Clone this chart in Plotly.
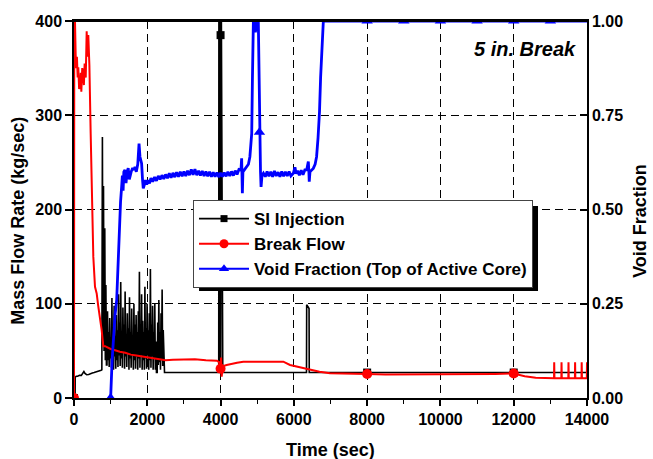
import plotly.graph_objects as go

FONT = "Liberation Sans, Arial, sans-serif"

# ---------------- SI Injection (kg/sec) ----------------
si_time = [0, 30, 32, 60, 100, 150, 200, 240, 270, 300, 345, 400, 450, 500, 550, 600, 650, 700, 740, 760,
           775, 790, 805, 820, 840, 855, 870, 885,
           900, 915, 930, 945, 960, 975, 990, 1005, 1020, 1035, 1050, 1065, 1080, 1095, 1110, 1125, 1140, 1155,
           1170, 1185, 1200, 1215, 1230, 1245, 1260, 1275, 1290, 1305, 1320, 1335, 1350, 1365, 1380, 1395, 1410,
           1425, 1440, 1455, 1470, 1485, 1500, 1515, 1530, 1545, 1560, 1575, 1590, 1605, 1620, 1635, 1650, 1665,
           1680, 1695, 1710, 1725, 1740, 1755, 1770, 1785, 1800, 1815, 1830, 1845, 1860, 1875, 1890, 1905, 1920,
           1935, 1950, 1965, 1980, 1995, 2010, 2025, 2040, 2055, 2070, 2085, 2100, 2115, 2130, 2145, 2160, 2175,
           2190, 2205, 2220, 2235, 2250, 2270, 2285, 2300, 2315, 2330, 2345, 2360, 2375, 2390, 2405, 2420, 2435,
           2450, 2460, 2470,
           3940, 3950, 3955, 3975, 3985, 4005, 4015, 4040, 4060,
           6330, 6345, 6350, 6400, 6415, 6420, 14000]
si_flow = [0, 0, 22, 23, 23, 24, 24, 26, 28, 26, 24.7, 25, 26, 26.5, 27, 27.5, 28, 29, 29.5, 30,
           277, 60, 225, 50, 180, 40, 120, 35,
           35, 92, 40, 70, 33, 85, 42, 60, 32, 106, 38, 75, 30, 98, 44, 66, 31, 88,
           40, 72, 33, 110, 45, 80, 34, 123, 42, 70, 32, 96, 48, 78, 31, 113, 44,
           68, 33, 90, 47, 74, 30, 107, 42, 70, 32, 95, 46, 66, 30, 100, 40, 78,
           31, 88, 44, 70, 30, 92, 42, 134, 32, 76, 45, 110, 30, 82, 40, 70, 30,
           118, 42, 74, 31, 100, 45, 72, 30, 90, 40, 137, 32, 78, 44, 98, 30, 70,
           42, 100, 30, 60, 27, 27, 80, 35, 104, 38, 70, 30, 90, 40, 115, 34, 72,
           30, 28, 27,
           27, 27, 470, 30, 470, 28, 470, 27, 27,
           27, 27, 99, 95, 95, 27, 27]
si_mark_time = [0, 4000, 8000, 12000]
si_mark_flow = [0, 385, 27, 27]

# ---------------- Break Flow (kg/sec) ----------------
bf_time = [0, 8, 27, 45, 60, 80, 100, 117, 140, 164, 185, 200, 225, 254, 270, 290, 320, 346, 365, 390, 420,
           455, 491, 527, 573, 619, 660, 710,
           755, 800, 850, 900, 1000, 1100, 1250, 1400, 1550, 1700, 1850, 2000, 2150, 2300, 2500, 2700,
           3000, 3300, 3600, 3900, 3960, 3985, 4000, 4015, 4030, 4050, 4075, 4165, 4300, 4450, 4620,
           5000, 5400, 5713, 5895, 6100, 6300, 6440, 6700, 6986, 7500, 8000, 8500, 9000, 9500, 10000,
           10500, 11000, 11500, 12000, 12300, 12600, 13000, 13100,
           13105, 13112, 13300, 13305, 13312, 13490, 13495, 13502, 13670, 13675, 13682, 13850, 13855,
           13862, 13995, 14000]
bf_flow = [0, 420, 400, 365, 350, 362, 340, 351, 328, 330, 345, 325, 350, 341, 332, 355, 340, 389, 362, 385, 353,
           281, 196, 150, 118, 111, 98, 86,
           72, 55, 55, 54, 52, 51, 49, 48, 46, 45, 44, 43, 42, 41, 40, 40.5,
           40.5, 41, 40, 39.5, 38, 29.7, 31, 43, 22.6, 30, 34, 35, 36.5, 37.5, 38.5,
           38.5, 38.5, 38.5, 35, 33, 31.5, 29.7, 27.9, 26.2, 25.5, 25.5, 25, 25, 25, 25,
           25, 25, 25.5, 26, 23, 21.5, 21, 21,
           38, 21, 21, 38, 21, 21, 38, 21, 21, 38, 21, 21, 38,
           21, 21, 38]
bf_mark_time = [0, 4000, 8000, 12000]
bf_mark_flow = [0, 31, 25.5, 26]

# ---------------- Void Fraction, top of active core (-) ----------------
vf_time = [930, 1000, 1040, 1075, 1120, 1165, 1200, 1255, 1270, 1300, 1320, 1340, 1360, 1390, 1420, 1450,
           1480, 1510, 1530, 1560, 1600, 1640, 1665, 1700, 1740, 1775, 1800, 1830, 1845, 1870, 1890, 1920,
           1950, 1985, 2020, 2060, 2100, 2150, 2200, 2250, 2300, 2350, 2400, 2450, 2500, 2550, 2600, 2650,
           2700, 2750, 2800, 2850, 2900, 2950, 3000, 3050, 3100, 3150, 3200, 3250, 3300, 3350, 3400, 3450,
           3500, 3550, 3600, 3650, 3700, 3750, 3800, 3850, 3900, 3950, 4000, 4050, 4100, 4150, 4200, 4250,
           4300, 4350, 4400, 4450, 4500, 4530, 4560, 4575, 4585, 4595, 4610, 4650, 4710, 4760, 4800, 4830,
           4850, 4870, 4895, 4930, 4950, 4975, 5000, 5030, 5045, 5060, 5075, 5090, 5105, 5130, 5170, 5220,
           5270, 5320, 5370, 5420, 5470, 5520, 5570, 5620, 5670, 5720, 5770, 5820, 5870, 5920, 5985, 6030,
           6060, 6100, 6150, 6200, 6250, 6300, 6350, 6380, 6395, 6410, 6420, 6440, 6480, 6530, 6580, 6620,
           6660, 6700, 6730, 6760, 6790, 6805, 7000, 8000, 9000, 10000, 11000, 12000, 13000, 14000]
vf_frac = [0.0, 0.0, 0.10, 0.17, 0.22, 0.26, 0.36, 0.48, 0.52, 0.56, 0.59, 0.55, 0.60, 0.605, 0.57, 0.60,
           0.61, 0.58, 0.59, 0.60, 0.61, 0.605, 0.613, 0.60, 0.62, 0.675, 0.64, 0.63, 0.622, 0.58, 0.556, 0.565,
           0.578, 0.566, 0.578, 0.569, 0.583, 0.574, 0.586, 0.576, 0.589, 0.580, 0.591, 0.581, 0.593, 0.583, 0.596, 0.584,
           0.597, 0.586, 0.599, 0.587, 0.600, 0.588, 0.601, 0.589, 0.603, 0.591, 0.606, 0.592, 0.607, 0.591, 0.603, 0.590,
           0.602, 0.589, 0.601, 0.588, 0.600, 0.587, 0.599, 0.587, 0.598, 0.586, 0.597, 0.587, 0.598, 0.588, 0.600, 0.589,
           0.601, 0.590, 0.603, 0.593, 0.606, 0.605, 0.61, 0.636, 0.59, 0.543, 0.60, 0.605, 0.614, 0.62, 0.64, 0.67,
           0.702, 0.85, 0.998, 1.0, 0.97, 0.99, 1.0, 1.0, 0.85, 0.705, 0.631, 0.60, 0.56, 0.59, 0.596, 0.587,
           0.601, 0.588, 0.600, 0.587, 0.602, 0.589, 0.599, 0.587, 0.601, 0.588, 0.600, 0.589, 0.601, 0.589, 0.596, 0.612,
           0.595, 0.603, 0.591, 0.604, 0.592, 0.605, 0.605, 0.615, 0.627, 0.60, 0.574, 0.60, 0.605, 0.609, 0.62, 0.64,
           0.69, 0.76, 0.85, 0.93, 0.98, 1.0, 1.0, 1.0, 1.0, 1.0, 1.0, 1.0, 1.0, 1.0]
vf_mark_time = [1000, 5060, 8000, 9000, 10000, 11000, 12000, 13000]
vf_mark_frac = [0.0, 0.705, 1.0, 1.0, 1.0, 1.0, 1.0, 1.0]

SERIES_NAMES = ["SI Injection", "Break Flow", "Void Fraction (Top of Active Core)"]
COLORS = ["black", "#ff0000", "#0000ff"]
SYMBOLS = ["square", "circle", "triangle-up"]
MSIZES = [8, 10, 10]
LWIDTHS = [1.6, 2.0, 2.8]

fig = go.Figure()

# curves
fig.add_trace(go.Scatter(x=si_time, y=si_flow, mode="lines", showlegend=False,
                         line=dict(color=COLORS[0], width=LWIDTHS[0])))
fig.add_trace(go.Scatter(x=bf_time, y=bf_flow, mode="lines", showlegend=False,
                         line=dict(color=COLORS[1], width=LWIDTHS[1])))
fig.add_trace(go.Scatter(x=si_mark_time, y=si_mark_flow, mode="markers", showlegend=False,
                         marker=dict(symbol=SYMBOLS[0], size=MSIZES[0], color=COLORS[0])))
fig.add_trace(go.Scatter(x=bf_mark_time, y=bf_mark_flow, mode="markers", showlegend=False,
                         marker=dict(symbol=SYMBOLS[1], size=MSIZES[1], color=COLORS[1])))
fig.add_trace(go.Scatter(x=vf_time, y=vf_frac, mode="lines", showlegend=False, yaxis="y2",
                         line=dict(color=COLORS[2], width=LWIDTHS[2])))
fig.add_trace(go.Scatter(x=vf_mark_time, y=vf_mark_frac, mode="markers", showlegend=False, yaxis="y2",
                         marker=dict(symbol=SYMBOLS[2], size=MSIZES[2], color=COLORS[2])))

# legend entries (line + symbol)
for name, c, s, ms, lw in zip(SERIES_NAMES, COLORS, SYMBOLS, MSIZES, LWIDTHS):
    fig.add_trace(go.Scatter(x=[None], y=[None], mode="lines+markers", name=name,
                             line=dict(color=c, width=min(lw, 2)),
                             marker=dict(symbol=s, size=ms - 1, color=c)))

tick_font = dict(family=FONT, size=16, color="black", weight="bold")
title_font = dict(family=FONT, size=18, color="black", weight="bold")

fig.update_layout(
    width=653, height=459,
    margin=dict(l=74, r=66, t=21, b=61),
    paper_bgcolor="white", plot_bgcolor="white",
    legend=dict(x=0.232, y=0.525, xanchor="left", yanchor="top",
                bgcolor="white", bordercolor="#444", borderwidth=1,
                itemwidth=50, tracegroupgap=0,
                font=dict(family=FONT, size=17, color="black", weight="bold")),
    xaxis=dict(range=[0, 14000], tick0=0, dtick=2000, tickformat="d", ticks="outside", ticklen=6,
               tickwidth=1.5, tickcolor="black", showline=True, linecolor="black", linewidth=1.5,
               mirror=True, showgrid=True, gridcolor="black", gridwidth=1, griddash="8px,5px",
               zeroline=False, tickfont=tick_font,
               minor=dict(dtick=1000, ticks="outside", ticklen=4, tickwidth=1, tickcolor="black",
                          showgrid=False)),
    yaxis=dict(range=[0, 400], tick0=0, dtick=100, ticks="outside", ticklen=7, tickwidth=1.5,
               tickcolor="black", showline=True, linecolor="black", linewidth=1.5,
               showgrid=True, gridcolor="black", gridwidth=1, griddash="8px,5px", zeroline=False,
               tickfont=tick_font),
    yaxis2=dict(range=[0, 1], tick0=0, dtick=0.25, tickformat=".2f", overlaying="y", side="right",
                ticks="inside", ticklen=7, tickwidth=1.5, tickcolor="black",
                showline=True, linecolor="black", linewidth=1.5, showgrid=False, zeroline=False,
                tickfont=tick_font),
    shapes=[
        # drop shadow behind the legend box
        dict(type="rect", xref="paper", yref="paper", x0=0.2437, x1=0.9045, y0=0.2838, y1=0.509,
             fillcolor="black", line=dict(width=0), layer="above"),
        # top frame edge drawn over the curves
        dict(type="line", xref="paper", yref="paper", x0=0, x1=1, y0=1, y1=1,
             line=dict(color="black", width=2.2), layer="above"),
    ],
    annotations=[
        dict(text="Time (sec)", xref="paper", yref="paper", x=0.5, y=-0.138, showarrow=False,
             xanchor="center", yanchor="middle", font=title_font),
        dict(text="Mass Flow Rate (kg/sec)", xref="paper", yref="paper", x=0, y=0.47, xshift=-56,
             textangle=-90, showarrow=False, xanchor="center", yanchor="middle", font=title_font),
        dict(text="Void Fraction", xref="paper", yref="paper", x=1, y=0.47, xshift=53,
             textangle=-90, showarrow=False, xanchor="center", yanchor="middle", font=title_font),
        dict(text="<b><i>5 in. Break</i></b>", xref="paper", yref="paper", x=0.982, y=0.926,
             showarrow=False, xanchor="right", yanchor="middle",
             font=dict(family=FONT, size=20, color="black")),
    ],
)

fig.write_html("out.html")
